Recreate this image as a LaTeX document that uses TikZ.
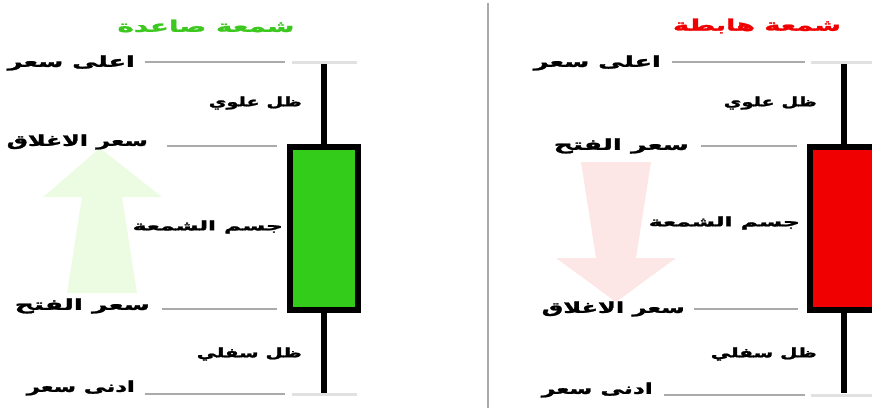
\documentclass[tikz,border=0pt]{standalone}
\usepackage{fontspec}
\usepackage{graphicx}
\newfontfamily\arabicfont[Script=Arabic, BoldFeatures={FakeBold=1.5}]{DejaVu Sans}
\TeXXeTstate=1
\newcommand\artext[2]{\resizebox{#1pt}{\height}{\arabicfont\bfseries #2}}
\definecolor{bullgreen}{RGB}{51,204,26}
\definecolor{bearred}{RGB}{240,0,0}
\definecolor{titlegreen}{RGB}{60,200,30}
\definecolor{titlered}{RGB}{240,0,0}
\definecolor{palegreen}{RGB}{236,252,226}
\definecolor{palered}{RGB}{253,230,230}
\definecolor{leadgray}{RGB}{170,170,170}
\definecolor{stubgray}{RGB}{225,225,225}
\tikzset{
  lbl/.style={anchor=east, inner sep=0pt, font=\fontsize{15}{17}\selectfont},
  small/.style={anchor=east, inner sep=0pt, font=\fontsize{13}{15}\selectfont},
  ttl/.style={inner sep=0pt, font=\fontsize{16}{18}\selectfont},
  leader/.style={draw=leadgray, line width=1.2pt},
  stub/.style={draw=stubgray, line width=3pt},
  wick/.style={draw=black, line width=6pt},
}
\begin{document}
\begin{tikzpicture}[x=1pt,y=-1pt]
\useasboundingbox (0,0) rectangle (872,408);
\clip (0,0) rectangle (872,408);
% pale arrows
\fill[palegreen] (100,148) -- (162,197) -- (122,197) -- (137,293) -- (67,293) -- (82,197) -- (43,197) -- cycle;
\fill[palered] (581,162) -- (651,162) -- (636,258) -- (676,258) -- (616,302) -- (556,258) -- (596,258) -- cycle;
% divider
\draw[color=leadgray, line width=1.2pt] (488,3) -- (488,408);

% ---------- left (bullish) ----------
\node[ttl, text=titlegreen] (tg) at (206,26) {\artext{177}{\beginR شمعة صاعدة\endR}};
\coordinate (lh) at (324,63); \coordinate (ll) at (324,393);
\draw[wick] (lh) -- (ll);
\node[draw=black, line width=6pt, fill=bullgreen, minimum width=68pt, minimum height=163pt, inner sep=0pt] (gb) at (324,228.5) {};
\node[lbl] (ghigh) at (135,63) {\artext{127}{\beginR اعلى سعر\endR}};
\node[small] (gup) at (302,103) {\artext{93}{\beginR ظل علوي\endR}};
\node[lbl] (gclose) at (148,142) {\artext{141}{\beginR سعر الاغلاق\endR}};
\node[small] (gbody) at (283,227) {\artext{150}{\beginR جسم الشمعة\endR}};
\node[lbl] (gopen) at (150,306) {\artext{135}{\beginR سعر الفتح\endR}};
\node[small] (gdown) at (302,354) {\artext{105}{\beginR ظل سفلي\endR}};
\node[lbl] (glow) at (135,388) {\artext{108}{\beginR ادنى سعر\endR}};
\coordinate (gh1) at (145,62); \coordinate (gh2) at (285,62);
\coordinate (gh3) at (292,62); \coordinate (gh4) at (357,62);
\draw[leader] (gh1) -- (gh2); \draw[stub] (gh3) -- (gh4);
\coordinate (gc1) at (167,146); \coordinate (gc2) at (277,146);
\draw[leader] (gc1) -- (gc2);
\coordinate (go1) at (162,309); \coordinate (go2) at (277,309);
\draw[leader] (go1) -- (go2);
\coordinate (gl1) at (145,394); \coordinate (gl2) at (285,394);
\coordinate (gl3) at (292,394); \coordinate (gl4) at (357,394);
\draw[leader] (gl1) -- (gl2); \draw[stub] (gl3) -- (gl4);

% ---------- right (bearish) ----------
\node[ttl, text=titlered] (tr) at (757,26) {\artext{168}{\beginR شمعة هابطة\endR}};
\coordinate (rh) at (844,63); \coordinate (rl) at (844,393);
\draw[wick] (rh) -- (rl);
\node[draw=black, line width=6pt, fill=bearred, minimum width=100pt, minimum height=163pt, inner sep=0pt] (rb) at (860,228.5) {};
\node[lbl] (rhigh) at (661,63) {\artext{127}{\beginR اعلى سعر\endR}};
\node[small] (rup) at (817,103) {\artext{93}{\beginR ظل علوي\endR}};
\node[lbl] (ropen) at (689,146) {\artext{135}{\beginR سعر الفتح\endR}};
\node[small] (rbody) at (800,223) {\artext{151}{\beginR جسم الشمعة\endR}};
\node[lbl] (rclose) at (685,309) {\artext{143}{\beginR سعر الاغلاق\endR}};
\node[small] (rdown) at (817,354) {\artext{106}{\beginR ظل سفلي\endR}};
\node[lbl] (rlow) at (653,390) {\artext{111}{\beginR ادنى سعر\endR}};
\coordinate (rh1) at (672,62); \coordinate (rh2) at (805,62);
\coordinate (rh3) at (811,62); \coordinate (rh4) at (872,62);
\draw[leader] (rh1) -- (rh2); \draw[stub] (rh3) -- (rh4);
\coordinate (ro1) at (701,146); \coordinate (ro2) at (797,146);
\draw[leader] (ro1) -- (ro2);
\coordinate (rc1) at (694,309); \coordinate (rc2) at (798,309);
\draw[leader] (rc1) -- (rc2);
\coordinate (rl1) at (664,395); \coordinate (rl2) at (805,395);
\coordinate (rl3) at (811,395); \coordinate (rl4) at (872,395);
\draw[leader] (rl1) -- (rl2); \draw[stub] (rl3) -- (rl4);
\end{tikzpicture}
\end{document}
